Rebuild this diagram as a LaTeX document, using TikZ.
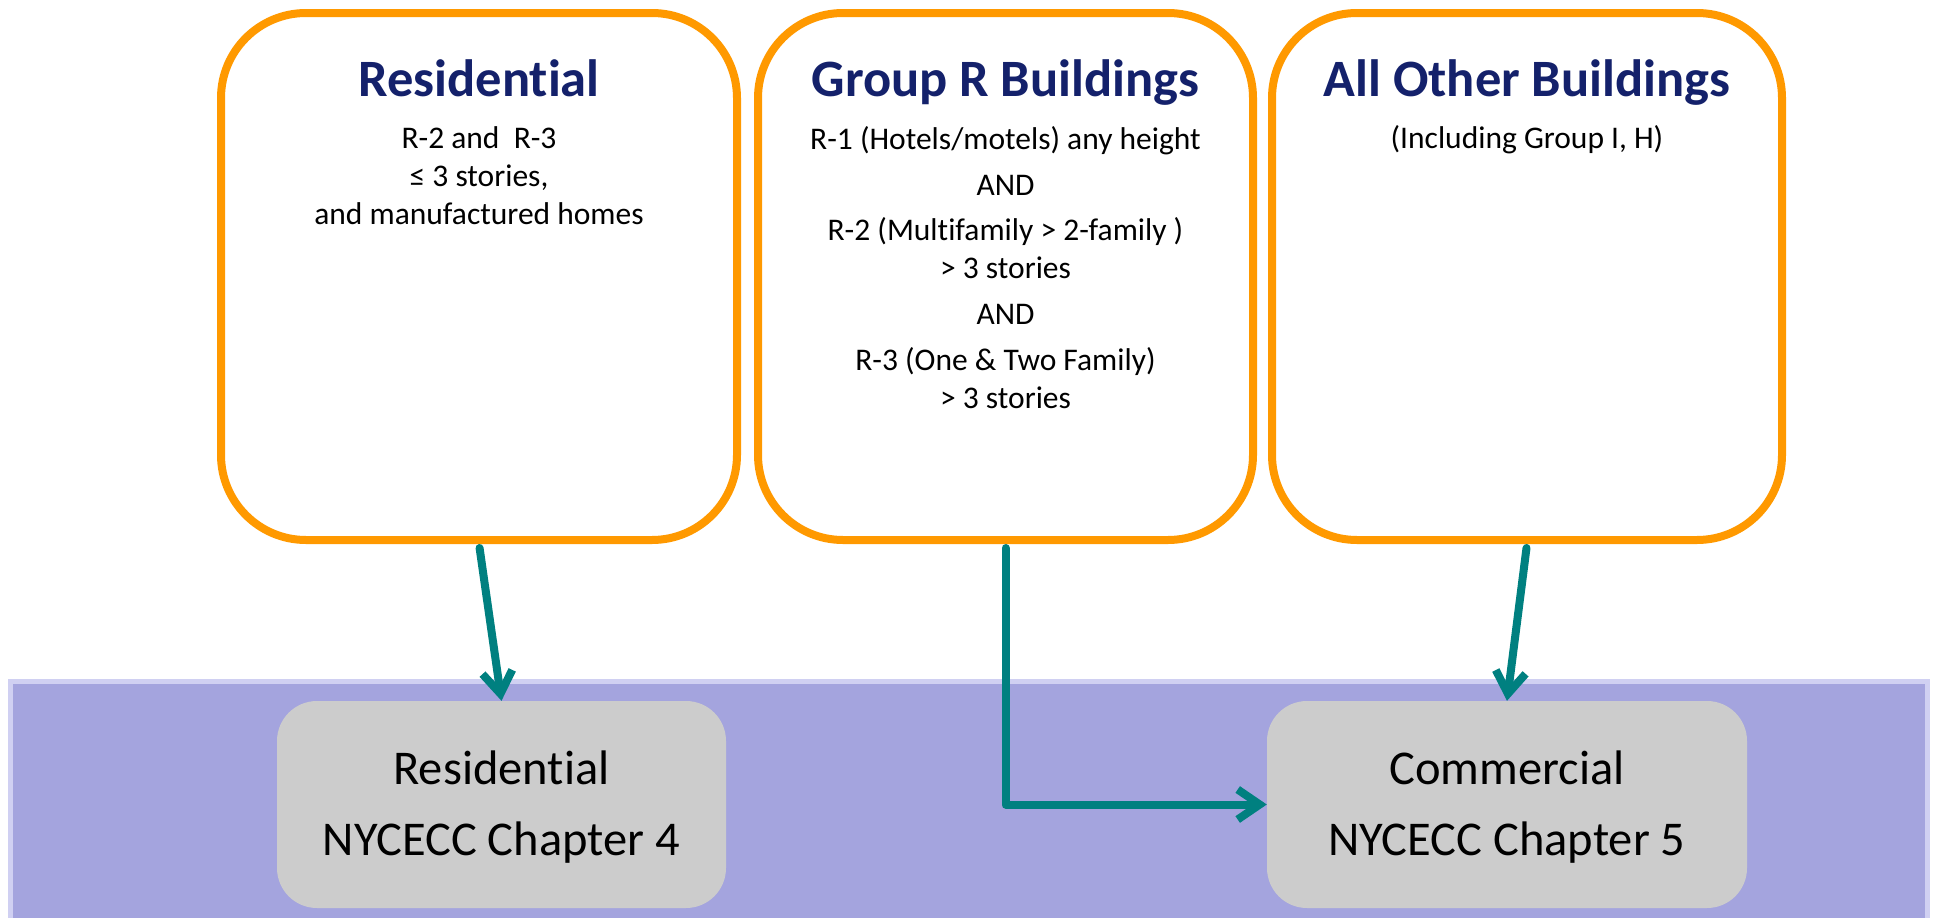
\documentclass[tikz,border=0pt]{standalone}
\usepackage{fontspec}
\setmainfont{Carlito}[Ligatures={NoCommon,NoContextual}, Contextuals=NoAlternate]
\usetikzlibrary{arrows.meta}
\definecolor{orng}{HTML}{FF9900}
\definecolor{navy}{RGB}{20,33,107}
\definecolor{tealc}{HTML}{008080}
\definecolor{bandc}{HTML}{A4A4DE}
\definecolor{bandedge}{HTML}{D0D0F2}
\definecolor{grayc}{HTML}{CCCCCC}
\tikzset{
  obox/.style={draw=orng, line width=8pt, fill=white, rounded corners=85pt, inner sep=0pt},
  gbox/.style={fill=grayc, rounded corners=40pt, inner sep=0pt},
  gtxt/.style={align=center, inner sep=0pt, font=\fontsize{48.5}{71}\selectfont},
  ttl/.style={text=navy, font=\fontsize{52.5}{60}\selectfont\bfseries, inner sep=0pt},
  body/.style={text=black, font=\fontsize{31.5}{38}\selectfont, align=center, inner sep=0pt},
  conn/.style={draw=tealc, line width=8pt, line cap=round, line join=round,
    -{Straight Barb[length=22pt,width=30pt]}, shorten <=4pt}
}
\begin{document}
\begin{tikzpicture}[x=1pt,y=-1pt]
\useasboundingbox (0,0) rectangle (1933,918);
% band
\fill[bandc] (10,681) rectangle (1927,918);
\draw[bandedge, line width=5pt] (10,918) -- (10,681) -- (1927,681) -- (1927,918);
% top boxes
\node[obox, minimum width=516pt, minimum height=527pt] (b1) at (479,276.5) {};
\node[obox, minimum width=495pt, minimum height=527pt] (b2) at (1005.5,276.5) {};
\node[obox, minimum width=510pt, minimum height=527pt] (b3) at (1527,276.5) {};
% titles
\node[ttl, anchor=base] (t1) at (479,96) {Residential};
\node[ttl, anchor=base] (t2) at (1005.5,96) {Group R Buildings};
\node[ttl, anchor=base] (t3) at (1527,96) {All Other Buildings};
% body text (base anchor = last line baseline)
\node[body, anchor=base] (d1) at (479,224) {R-2 and~ R-3\\ ≤ 3 stories,\\ and manufactured homes};
\node[body, anchor=base] (d2) at (1005.5,408) {R-1 (Hotels/motels) any height\\[8pt] AND\\[7pt] R-2 (Multifamily > 2-family )\\ > 3 stories\\[8pt] AND\\[8pt] R-3 (One \& Two Family)\\ > 3 stories};
\node[body, anchor=base] (d3) at (1527,148) {(Including Group I, H)};
% bottom boxes
\node[gbox, minimum width=449pt, minimum height=207pt] (g1) at (501.5,804.5) {};
\node[gbox, minimum width=480pt, minimum height=207pt] (g2) at (1507,804.5) {};
\node[gtxt, anchor=base] (g1t) at (501.5,855) {Residential\\ NYCECC Chapter 4};
\node[gtxt, anchor=base] (g2t) at (1507,855) {Commercial\\ NYCECC Chapter 5};
% connectors
\draw[conn] (b1.south) -- (g1.north);
\draw[conn] (b2.south) |- (g2.west);
\draw[conn] (b3.south) -- (g2.north);
\end{tikzpicture}
\end{document}
